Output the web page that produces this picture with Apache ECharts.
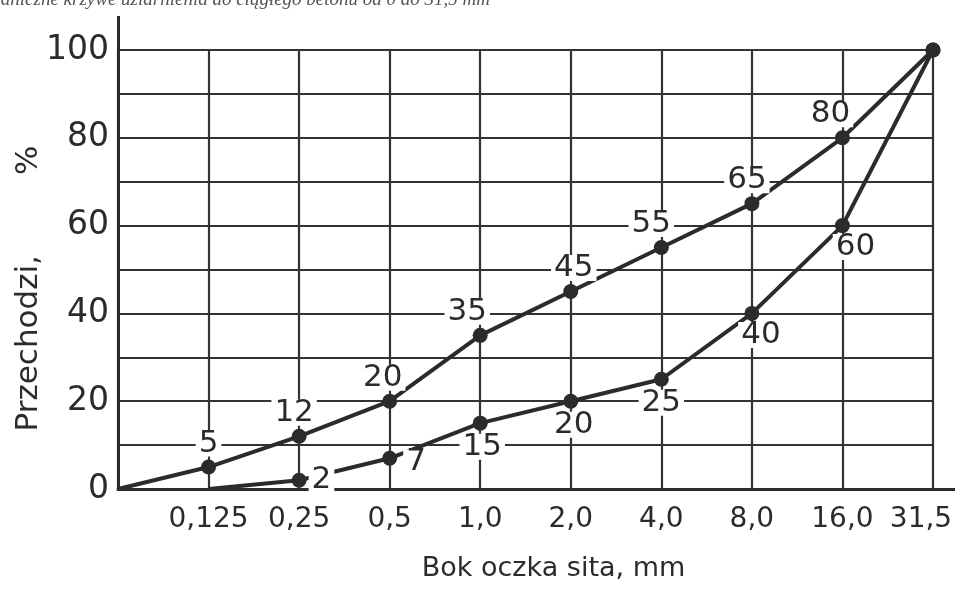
<!DOCTYPE html>
<html><head><meta charset="utf-8">
<script src="https://cdn.jsdelivr.net/npm/echarts@6/dist/echarts.min.js"></script>
<style>html,body{margin:0;padding:0;background:#fff;overflow:hidden}#c{width:956px;height:591px}</style>
</head><body><div id="c"></div>
<script>
// ---- data ----
const categories = ['', '0,125', '0,25', '0,5', '1,0', '2,0', '4,0', '8,0', '16,0', '31,5'];
const upperValues = [0, 5, 12, 20, 35, 45, 55, 65, 80, 100];
const lowerValues = [null, 0, 2, 7, 15, 20, 25, 40, 60, 100];
const yTickLabels = [0, 20, 40, 60, 80, 100];
const titleText = 'Graniczne krzywe uziarnienia do ciągłego betonu od 0 do 31,5 mm';
const xName = 'Bok oczka sita, mm';
const yName = 'Przechodzi,';
const yUnit = '%';

// ---- label layout (position, offset) per point; null = no label ----
const upperLabelLayout = [null, ['top', [0, 0]], ['top', [-5, 0]], ['top', [-7, 0]], ['top', [-13, 0]],
  ['top', [3, 0]], ['top', [-10, 0]], ['top', [-5, 0]], ['top', [-12, 0]], null];
const lowerLabelLayout = [null, null, ['right', [-4, 0]], ['right', [0, 4]], ['bottom', [2, 0]],
  ['bottom', [3, 0]], ['bottom', [0, 0]], ['bottom', [9, -2]], ['bottom', [13, -2]], null];

const ink = '#2b2b2b';
const numFont = 'DejaVu Sans';

function buildData(values, layout) {
  return values.map((v, i) => {
    const item = { value: v };
    const lay = layout[i];
    if (lay) {
      item.label = {
        show: true, position: lay[0], offset: lay[1], distance: lay[0] === 'right' ? 6 : 3
      };
    } else {
      item.label = { show: false };
    }
    if (v === 0) item.symbol = 'none';
    return item;
  });
}

// category entries; the last label is nudged left so it stays inside the page
const xAxisData = categories.map((c, i) =>
  i === categories.length - 1 ? { value: c, textStyle: { padding: [0, 24, 0, 0] } } : c);

const labelStyle = {
  color: ink, fontFamily: numFont, fontSize: 31, lineHeight: 26,
  backgroundColor: '#fff', padding: [0, 3],
  formatter: p => String(p.value)
};

const chart = echarts.init(document.getElementById('c'), null, { renderer: 'canvas' });
chart.setOption({
  backgroundColor: '#fff',
  animation: false,
  grid: { left: 118, right: 23, top: 50, bottom: 102, containLabel: false, outerBoundsMode: 'none' },
  graphic: [
    { type: 'text', right: 466, top: -10, style: { text: titleText, font: 'italic 19px "Liberation Serif"', fill: '#555' } },
    { type: 'line', shape: { x1: 118.5, y1: 16, x2: 118.5, y2: 50 }, style: { stroke: ink, lineWidth: 3 } },
    { type: 'line', shape: { x1: 933, y1: 489.5, x2: 955, y2: 489.5 }, style: { stroke: ink, lineWidth: 3 } }
  ],
  xAxis: {
    type: 'category', data: xAxisData, boundaryGap: false,
    name: xName, nameLocation: 'middle', nameGap: 66, nameMoveOverlap: false,
    nameTextStyle: { fontFamily: numFont, fontSize: 27, color: ink, padding: [0, 0, 0, 56] },
    axisLine: { lineStyle: { color: ink, width: 3 } },
    axisTick: { show: false },
    axisLabel: { interval: 0, fontFamily: numFont, fontSize: 28, color: ink, margin: 17 },
    splitLine: { show: true, interval: 0, lineStyle: { color: '#333', width: 2.2 } }
  },
  yAxis: {
    type: 'value', min: 0, max: 100, interval: 10,
    name: '{a|' + yName + '}{b|' + yUnit + '}', nameLocation: 'middle', nameGap: 74, nameRotate: 90,
    nameMoveOverlap: false,
    nameTextStyle: {
      fontFamily: numFont, fontSize: 31, color: ink, padding: [0, 38, 0, 0],
      rich: {
        a: { fontFamily: numFont, fontSize: 31, color: ink },
        b: { fontFamily: numFont, fontSize: 31, color: ink, padding: [0, 0, 0, 80] }
      }
    },
    axisLine: { show: true, lineStyle: { color: ink, width: 3 } },
    axisTick: { show: false },
    axisLabel: {
      fontFamily: numFont, fontSize: 33, color: ink, margin: 9,
      formatter: v => (yTickLabels.indexOf(v) >= 0 ? String(v) : '')
    },
    splitLine: { show: true, lineStyle: { color: '#333', width: 2.2 } }
  },
  series: [
    {
      type: 'line', data: buildData(upperValues, upperLabelLayout),
      symbol: 'circle', symbolSize: 15, z: 3,
      lineStyle: { color: ink, width: 4 }, itemStyle: { color: ink },
      label: labelStyle
    },
    {
      type: 'line', data: buildData(lowerValues, lowerLabelLayout),
      symbol: 'circle', symbolSize: 15, z: 3, connectNulls: false,
      lineStyle: { color: ink, width: 4 }, itemStyle: { color: ink },
      label: labelStyle
    }
  ]
});
</script>
</body></html>
